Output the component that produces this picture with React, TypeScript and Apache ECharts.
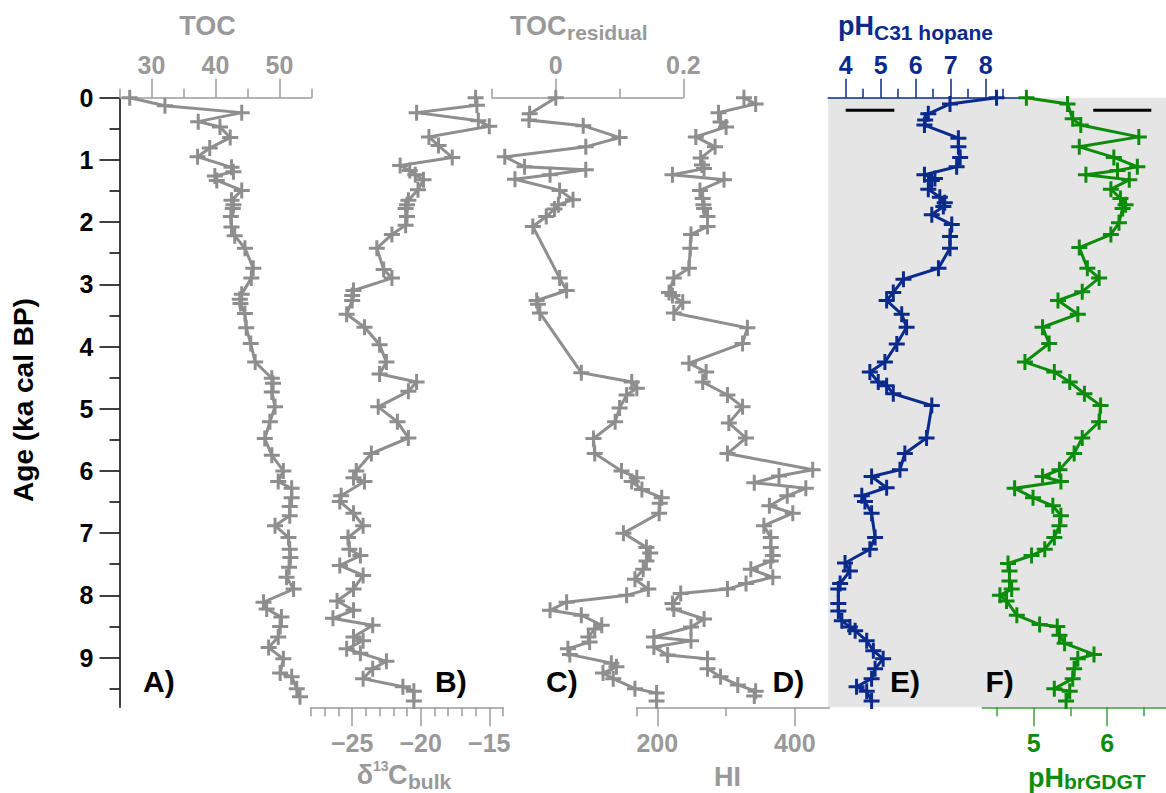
import React, { useEffect, useRef } from "react";
import * as echarts from "echarts";

// ---------- data (age in ka cal BP) ----------
const tocAge = [0,0.13,0.24,0.385,0.47,0.64,0.81,0.95,1.12,1.19,1.26,1.33,1.49,1.65,1.72,1.78,1.91,2.08,2.22,2.42,2.74,2.90,3.16,3.24,3.31,3.47,3.70,3.95,4.25,4.51,4.59,4.73,4.97,5.21,5.48,5.75,6.0,6.17,6.28,6.43,6.57,6.72,6.88,7.07,7.26,7.39,7.55,7.71,7.90,8.11,8.22,8.35,8.50,8.67,8.84,9.02,9.25,9.31,9.50,9.63];
const tocVal = [26.6,32.1,44.1,37.3,40.7,42.3,39.1,37.2,42.5,42.8,39.9,40.2,44.1,42.5,42.8,42.7,42.4,42.5,43.0,44.6,45.9,45.6,44.1,43.8,43.9,44.6,44.8,45.5,46.2,48.8,49.0,48.8,49.3,48.5,47.7,48.8,50.6,49.8,51.9,51.9,51.6,51.6,49.3,51.4,51.6,51.7,51.5,51.1,52.2,47.5,48.0,50.3,50.1,49.8,48.3,50.6,50.1,51.9,52.7,53.2];

const d13Age = [0,0.12,0.24,0.37,0.46,0.63,0.77,0.96,1.09,1.17,1.24,1.32,1.48,1.65,1.72,1.78,1.91,2.05,2.20,2.42,2.76,2.90,3.10,3.18,3.26,3.48,3.69,3.97,4.25,4.44,4.57,4.72,4.97,5.21,5.47,5.72,6.0,6.11,6.17,6.40,6.49,6.68,6.88,7.07,7.26,7.36,7.52,7.68,7.90,8.09,8.24,8.37,8.48,8.67,8.73,8.86,8.93,9.06,9.18,9.34,9.47,9.54,9.70];
const d13Val = [-16.0,-15.9,-20.3,-15.8,-15.0,-19.4,-18.7,-17.7,-21.5,-20.8,-20.4,-19.8,-20.2,-20.9,-21.0,-21.1,-21.0,-21.1,-22.1,-23.2,-22.7,-22.1,-24.9,-25.0,-25.0,-25.4,-24.1,-23.0,-22.5,-23.0,-20.3,-20.9,-23.1,-21.7,-20.9,-23.6,-24.7,-24.9,-24.1,-25.8,-25.9,-24.9,-24.2,-25.3,-25.2,-24.4,-25.9,-24.2,-24.9,-26.1,-24.9,-26.4,-23.5,-24.9,-24.2,-25.4,-24.4,-22.5,-23.5,-24.2,-21.3,-20.5,-20.5];

const resAge = [0,0.26,0.36,0.45,0.64,0.79,0.95,1.11,1.16,1.24,1.31,1.49,1.64,1.72,1.79,1.91,2.07,2.90,3.10,3.26,3.32,3.46,4.42,4.57,4.67,4.78,4.99,5.21,5.48,5.72,6.0,6.11,6.17,6.30,6.43,6.52,6.68,7.0,7.23,7.32,7.45,7.58,7.74,7.90,8.0,8.11,8.24,8.32,8.48,8.54,8.67,8.75,8.86,8.95,9.09,9.15,9.25,9.34,9.50,9.57,9.70];
const resVal = [0,-0.041,-0.042,0.043,0.100,0.047,-0.080,-0.049,0.047,-0.009,-0.064,0.006,0.027,0.004,-0.002,-0.015,-0.036,0.006,0.017,-0.030,-0.028,-0.025,0.040,0.119,0.127,0.111,0.100,0.093,0.059,0.061,0.103,0.127,0.119,0.135,0.166,0.163,0.162,0.106,0.142,0.148,0.142,0.137,0.124,0.145,0.111,0.017,-0.009,0.040,0.072,0.061,0.051,0.053,0.019,0.022,0.087,0.095,0.074,0.090,0.124,0.158,0.158];

const hiAge = [0,0.1,0.24,0.39,0.47,0.63,0.79,0.97,1.08,1.14,1.24,1.32,1.49,1.62,1.72,1.78,1.91,2.07,2.20,2.42,2.74,2.90,3.13,3.18,3.29,3.46,3.70,3.95,4.27,4.41,4.57,4.78,4.97,5.23,5.47,5.72,5.98,6.08,6.19,6.28,6.40,6.56,6.68,6.88,7.07,7.23,7.36,7.45,7.58,7.71,7.81,7.90,7.97,8.13,8.22,8.38,8.51,8.67,8.73,8.83,8.96,9.02,9.18,9.31,9.44,9.54,9.62];
const hiVal = [326,343,289,292,300,256,284,263,265,268,222,297,262,266,267,268,273,273,249,248,246,224,217,222,237,224,331,324,246,271,266,302,324,304,329,302,426,377,341,416,389,363,397,355,365,365,368,365,336,368,329,302,234,222,224,268,249,195,249,195,215,273,273,292,317,343,341];

const hopAge = [0,0.10,0.26,0.36,0.44,0.65,0.79,0.96,1.11,1.24,1.30,1.33,1.47,1.60,1.69,1.75,1.88,2.04,2.23,2.42,2.74,2.92,3.13,3.26,3.48,3.69,3.96,4.25,4.41,4.57,4.63,4.76,4.95,5.47,5.72,5.98,6.09,6.27,6.40,6.49,6.68,7.07,7.26,7.48,7.61,7.81,7.90,8.13,8.25,8.41,8.51,8.57,8.73,8.89,9.02,9.18,9.34,9.47,9.54,9.70];
const hopVal = [8.31,6.98,6.36,6.27,6.25,7.22,7.22,7.27,7.17,6.25,6.55,6.46,6.36,6.69,6.83,6.79,6.46,7.03,6.98,6.98,6.65,5.65,5.36,5.17,5.60,5.74,5.46,5.12,4.69,4.93,5.17,5.36,6.46,6.31,5.69,5.55,4.74,5.17,4.46,4.55,4.74,4.84,4.69,3.98,4.12,3.84,3.79,3.79,3.79,3.89,4.12,4.27,4.60,4.79,5.07,4.84,4.74,4.31,4.60,4.74];

const brAge = [0,0.10,0.34,0.44,0.63,0.79,0.96,1.11,1.17,1.24,1.32,1.47,1.62,1.72,1.78,2.01,2.20,2.41,2.74,2.90,3.12,3.26,3.48,3.69,3.95,4.25,4.41,4.57,4.76,4.95,5.21,5.47,5.72,5.98,6.09,6.17,6.28,6.43,6.56,6.72,6.88,7.07,7.26,7.36,7.49,7.61,7.77,7.90,8.0,8.09,8.32,8.47,8.50,8.64,8.77,8.95,9.02,9.18,9.34,9.50,9.54,9.70];
const brVal = [4.90,5.46,5.53,5.64,6.43,5.62,6.09,6.41,6.14,5.71,6.30,6.05,6.18,6.25,6.21,6.16,6.05,5.62,5.73,5.89,5.66,5.33,5.60,5.12,5.21,4.88,5.28,5.49,5.69,5.91,5.89,5.66,5.55,5.35,5.12,5.37,4.74,4.99,5.26,5.37,5.35,5.28,5.15,4.97,4.65,4.67,4.67,4.70,4.54,4.63,4.77,5.08,5.32,5.35,5.42,5.82,5.60,5.55,5.53,5.28,5.49,5.44];

// calibration error bars (value range at a given age)
const hopBarX = [4.0, 5.39];
const brBarX = [5.81, 6.60];
const barAge = 0.2;

// ---------- ticks ----------
const ageMajor = [0,1,2,3,4,5,6,7,8,9];
const ageMinor = [0.5,1.5,2.5,3.5,4.5,5.5,6.5,7.5,8.5,9.5];
const tocMajor = [30,40,50];
const tocMinor = [25,35,45,55];
const d13Major = [-25,-20,-15];
const d13Minor = [-28,-27,-26,-24,-23,-22,-21,-19,-18,-17,-16,-14];
const resMajor = [0,0.2];
const resMinor = [-0.1,0.1];
const hiMajor = [200,400];
const hiMinor = [170,300];
const hopMajor = [4,5,6,7,8];
const hopMinor = [4.5,5.5,6.5,7.5,8.5];
const brMajor = [5,6];
const brMinor = [4.5,5.5,6.5];

const FONT = "'Liberation Sans', Arial, Helvetica, sans-serif";
const GRAY = "#8e8e8e";
const GRAY_AX = "#9c9c9c";
const BLUE = "#0a2a8c";
const GREEN = "#0b8c0b";
const PLUS = "path://M6.5,0H9.5V6.5H16V9.5H9.5V16H6.5V9.5H0V6.5H6.5Z";

const TOP = 97.7;
const HEIGHT = 609.6;
const AGE_MAX = 9.8;

const panels = [
  { left: 119.5, width: 192, min: 25, max: 55, pos: "top", axc: GRAY_AX, lc: "#999999", sc: GRAY, major: tocMajor, minor: tocMinor, age: tocAge, val: tocVal },
  { left: 311, width: 192, min: -28, max: -14, pos: "bottom", axc: GRAY_AX, lc: "#999999", sc: GRAY, major: d13Major, minor: d13Minor, age: d13Age, val: d13Val },
  { left: 492, width: 191.4, min: -0.1, max: 0.2, pos: "top", axc: GRAY_AX, lc: "#999999", sc: GRAY, major: resMajor, minor: resMinor, age: resAge, val: resVal },
  { left: 636.7, width: 192.5, min: 170, max: 450, pos: "bottom", axc: GRAY_AX, lc: "#999999", sc: GRAY, major: hiMajor, minor: hiMinor, age: hiAge, val: hiVal },
  { left: 828.2, width: 192.5, min: 3.5, max: 9, pos: "top", axc: BLUE, lc: BLUE, sc: BLUE, major: hopMajor, minor: hopMinor, age: hopAge, val: hopVal },
  { left: 982.3, width: 185, min: 4.3, max: 6.8, pos: "bottom", axc: "#3a9f3a", lc: GREEN, sc: GREEN, major: brMajor, minor: brMinor, age: brAge, val: brVal },
];

const fmt = (v: number) => String(v).replace("-", "\u2212");

function buildOption() {
  const grid = panels.map((p) => ({ left: p.left, width: p.width, top: TOP, height: HEIGHT, containLabel: false }));
  const xAxis: any[] = [];
  panels.forEach((p, i) => {
    xAxis.push({
      gridIndex: i, type: "value", position: p.pos, min: p.min, max: p.max,
      axisLine: { show: true, onZero: false, lineStyle: { color: p.axc, width: 1.5 } },
      axisTick: { show: true, customValues: p.major, length: 19, lineStyle: { color: p.axc, width: 1.5 } },
      axisLabel: { show: true, customValues: p.major, margin: p.pos === "top" ? 20 : 23, color: p.lc, fontSize: 25, fontWeight: "bold", fontFamily: FONT, formatter: fmt },
      splitLine: { show: false },
    });
    xAxis.push({
      gridIndex: i, type: "value", position: p.pos, min: p.min, max: p.max,
      axisLine: { show: false, onZero: false },
      axisTick: { show: true, customValues: p.minor, length: 9, lineStyle: { color: p.axc, width: 1.5 } },
      axisLabel: { show: false },
      splitLine: { show: false },
    });
  });
  const yAxis: any[] = panels.map((p, i) => ({
    gridIndex: i, type: "value", position: "left", min: 0, max: AGE_MAX, inverse: true, show: i === 0,
    axisLine: { show: true, onZero: false, lineStyle: { color: "#000", width: 1.5 } },
    axisTick: { show: true, customValues: ageMajor, length: 20, lineStyle: { color: "#000", width: 1.5 } },
    axisLabel: { show: true, customValues: ageMajor, margin: 26, color: "#000", fontSize: 25, fontWeight: "bold", fontFamily: FONT },
    splitLine: { show: false },
  }));
  yAxis.push({
    gridIndex: 0, type: "value", position: "left", offset: 0, min: 0, max: AGE_MAX, inverse: true,
    axisLine: { show: false, onZero: false },
    axisTick: { show: true, customValues: ageMinor, length: 10, lineStyle: { color: "#000", width: 1.5 } },
    axisLabel: { show: false },
    splitLine: { show: false },
  });

  const series: any[] = panels.map((p, i) => ({
    type: "line", xAxisIndex: 2 * i, yAxisIndex: i,
    data: p.age.map((a, k) => [p.val[k], a]),
    symbol: PLUS, symbolSize: 16, showSymbol: true, clip: false,
    itemStyle: { color: p.sc },
    lineStyle: { color: p.sc, width: 3, join: "miter", miterLimit: 10 },
    z: 3,
  }));
  series.push({
    type: "line", xAxisIndex: 8, yAxisIndex: 4, data: hopBarX.map((x) => [x, barAge]),
    symbol: "none", lineStyle: { color: "#000", width: 3 }, z: 4,
  });
  series.push({
    type: "line", xAxisIndex: 10, yAxisIndex: 5, data: brBarX.map((x) => [x, barAge]),
    symbol: "none", lineStyle: { color: "#000", width: 3 }, z: 4,
  });

  const t = (text: string, x: number, y: number, size: number, color: string, align = "left", extra: any = {}) => ({
    type: "text", x, y, silent: true, ...extra,
    style: { text, fill: color, fontSize: size, fontWeight: "bold", fontFamily: FONT, align, verticalAlign: "middle" },
  });

  const graphic = [
    { type: "rect", shape: { x: 828.2, y: TOP, width: 340, height: HEIGHT }, style: { fill: "#e5e5e5" }, z: -10, silent: true },
    t("Age (ka cal BP)", 23.5, 400, 28, "#000", "center", { rotation: Math.PI / 2 }),
    t("TOC", 207.5, 25.6, 27, "#999999", "center"),
    t("TOC", 510, 25.6, 27, "#999999"),
    t("residual", 567, 32.7, 21, "#999999"),
    t("pH", 838, 25.6, 27, BLUE),
    t("C31 hopane", 874, 32.7, 21, BLUE),
    t("\u03b4", 356.7, 775, 27, "#999999"),
    t("13", 373, 766, 14, "#999999"),
    t("C", 388, 775, 27, "#999999"),
    t("bulk", 408, 781, 21, "#999999"),
    t("HI", 727.5, 777, 27, "#999999", "center"),
    t("pH", 1028, 777.5, 27, GREEN),
    t("brGDGT", 1064, 781.5, 21, GREEN),
    t("A)", 143, 681.3, 30, "#000"),
    t("B)", 435, 681.3, 30, "#000"),
    t("C)", 546, 681.3, 30, "#000"),
    t("D)", 772.5, 681.3, 30, "#000"),
    t("E)", 890, 681.3, 30, "#000"),
    t("F)", 985.5, 681.3, 30, "#000"),
  ];

  return { animation: false, backgroundColor: "#ffffff", grid, xAxis, yAxis, series, graphic };
}

export default function App() {
  const ref = useRef<HTMLDivElement>(null);
  useEffect(() => {
    if (!ref.current) return;
    const chart = echarts.init(ref.current, null, { renderer: "svg" });
    chart.setOption(buildOption() as any);
    return () => chart.dispose();
  }, []);
  return <div ref={ref} style={{ position: "absolute", left: 0, top: 0, width: 1166, height: 793 }} />;
}
